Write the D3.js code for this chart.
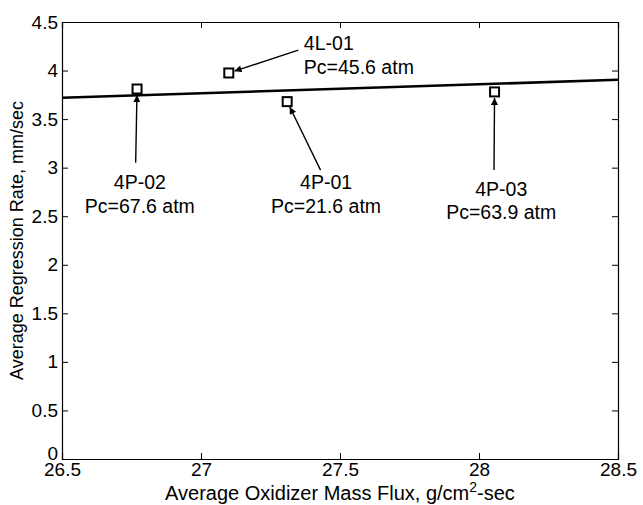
<!DOCTYPE html>
<html>
<head>
<meta charset="utf-8">
<script src="https://cdn.jsdelivr.net/npm/d3@7.9.0/dist/d3.min.js"></script>
<style>
  html, body { margin: 0; padding: 0; background: #fff; }
  svg { display: block; font-family: "Liberation Sans", Arial, sans-serif; }
</style>
</head>
<body>
<svg id="chart" width="643" height="505"></svg>
<script>
// ---- data ----
const runIds = ["4P-02", "4L-01", "4P-01", "4P-03"];
const chamberP = ["Pc=67.6 atm", "Pc=45.6 atm", "Pc=21.6 atm", "Pc=63.9 atm"];
const oxFlux = [26.77, 27.10, 27.31, 28.056];
const regRate = [3.81, 3.975, 3.68, 3.78];

// linear fit line end points
const fitFlux = [26.5, 28.5];
const fitRate = [3.72, 3.905];

const xTicks = [26.5, 27, 27.5, 28, 28.5];
const yTicks = [0, 0.5, 1, 1.5, 2, 2.5, 3, 3.5, 4, 4.5];

// annotation placement (data units): text anchor point, arrow tail, alignment
const notes = [
  { tx: 26.78, ty: 2.78, ax: 26.765, ay: 3.05, align: "middle" },
  { tx: 27.37, ty: 4.21, ax: 27.35, ay: 4.21, align: "start" },
  { tx: 27.45, ty: 2.78, ax: 27.43, ay: 2.975, align: "middle" },
  { tx: 28.08, ty: 2.71, ax: 28.054, ay: 2.975, align: "middle" }
];

// ---- layout ----
const svg = d3.select("#chart");
const margin = { top: 22, right: 25, bottom: 46, left: 62 };
const W = 643, H = 505;
const innerW = W - margin.left - margin.right;
const innerH = H - margin.top - margin.bottom;
const g = svg.append("g").attr("transform", `translate(${margin.left},${margin.top})`);

const x = d3.scaleLinear().domain([26.5, 28.5]).range([0, innerW]);
const y = d3.scaleLinear().domain([0, 4.5]).range([innerH, 0]);

const fmt = d => String(d);
const tickFont = "19px";

// axes, ticks pointing inward
g.append("g")
  .attr("transform", `translate(0,${innerH})`)
  .call(d3.axisBottom(x).tickValues(xTicks).tickFormat(fmt).tickSize(-6).tickPadding(4));
g.append("g")
  .call(d3.axisTop(x).tickValues(xTicks).tickFormat("").tickSize(-6));
const yAxis = g.append("g")
  .call(d3.axisLeft(y).tickValues(yTicks).tickFormat(fmt).tickSize(-6).tickPadding(4));
g.append("g")
  .attr("transform", `translate(${innerW},0)`)
  .call(d3.axisRight(y).tickValues(yTicks).tickFormat("").tickSize(-6));

g.selectAll(".domain").attr("stroke", "#000").attr("stroke-width", 1.2);
g.selectAll(".tick line").attr("stroke", "#000").attr("stroke-width", 1);
g.selectAll(".tick text")
  .attr("fill", "#000")
  .style("font-size", tickFont)
  .style("font-family", "'Liberation Sans', Arial, sans-serif");

// the "0" sits a little high, like the original
yAxis.selectAll(".tick").filter(d => d === 0).select("text").attr("dy", "0.05em");

// fit line
const fit = fitFlux.map((f, i) => [f, fitRate[i]]);
g.append("path")
  .datum(fit)
  .attr("d", d3.line().x(d => x(d[0])).y(d => y(d[1])))
  .attr("fill", "none")
  .attr("stroke", "#000")
  .attr("stroke-width", 2.6);

// arrow marker
svg.append("defs").append("marker")
  .attr("id", "arrow")
  .attr("viewBox", "0 0 10 10")
  .attr("refX", 10).attr("refY", 5)
  .attr("markerWidth", 10).attr("markerHeight", 7)
  .attr("markerUnits", "userSpaceOnUse")
  .attr("orient", "auto")
  .append("path")
  .attr("d", "M0,0L10,5L0,10Z")
  .attr("fill", "#000");

const pts = runIds.map((id, i) => ({ id, pc: chamberP[i], fx: oxFlux[i], r: regRate[i], note: notes[i] }));

// arrows from labels to points (stop at the square's edge)
g.selectAll(".arrow")
  .data(pts)
  .join("line")
  .attr("class", "arrow")
  .each(function (d) {
    const x1 = x(d.note.ax), y1 = y(d.note.ay);
    const x2 = x(d.fx), y2 = y(d.r);
    const len = Math.hypot(x2 - x1, y2 - y1);
    const cut = 6;
    d3.select(this)
      .attr("x1", x1).attr("y1", y1)
      .attr("x2", x2 - (x2 - x1) / len * cut)
      .attr("y2", y2 - (y2 - y1) / len * cut);
  })
  .attr("stroke", "#000")
  .attr("stroke-width", 1.4)
  .attr("marker-end", "url(#arrow)");

// square markers
const sq = 9;
g.selectAll(".pt")
  .data(pts)
  .join("rect")
  .attr("class", "pt")
  .attr("x", d => x(d.fx) - sq / 2)
  .attr("y", d => y(d.r) - sq / 2)
  .attr("width", sq).attr("height", sq)
  .attr("fill", "#fff")
  .attr("stroke", "#000")
  .attr("stroke-width", 2);

// labels
const lab = g.selectAll(".lab")
  .data(pts)
  .join("text")
  .attr("class", "lab")
  .attr("text-anchor", d => d.note.align)
  .attr("fill", "#000")
  .style("font-size", "19.5px");
lab.append("tspan")
  .attr("x", d => x(d.note.tx))
  .attr("y", d => y(d.note.ty))
  .text(d => d.id);
lab.append("tspan")
  .attr("x", d => x(d.note.tx))
  .attr("dy", 23.5)
  .text(d => d.pc);

// axis titles
const xt = svg.append("text")
  .attr("x", margin.left + innerW / 2)
  .attr("y", 500)
  .attr("text-anchor", "middle")
  .attr("fill", "#000")
  .style("font-size", "20px");
xt.append("tspan").text("Average Oxidizer Mass Flux, g/cm");
xt.append("tspan").attr("dy", -8).style("font-size", "14px").text("2");
xt.append("tspan").attr("dy", 8).text("-sec");

svg.append("text")
  .attr("transform", `translate(23,${margin.top + innerH / 2}) rotate(-90)`)
  .attr("text-anchor", "middle")
  .attr("fill", "#000")
  .style("font-size", "18px")
  .text("Average Regression Rate, mm/sec");
</script>
</body>
</html>
